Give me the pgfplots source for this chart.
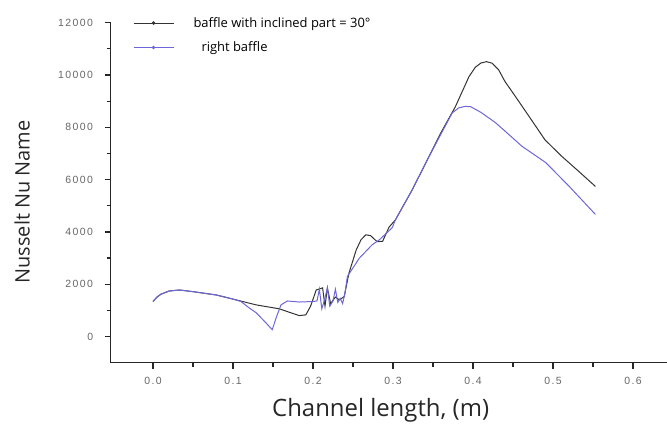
\documentclass[border=0pt]{standalone}
\usepackage{fontspec}
\setmainfont{Open Sans}
\newfontfamily\tickfont[LetterSpace=14]{Liberation Sans}
\usepackage{pgfplots}
\pgfplotsset{compat=1.18}
\definecolor{blk}{HTML}{333333}
\definecolor{blu}{HTML}{6C66D8}
\definecolor{tgray}{HTML}{666666}
\begin{document}
\begin{tikzpicture}
\path[use as bounding box] (-110.6bp,-69.3bp) rectangle (556.4bp,362.7bp);
\begin{axis}[
  at={(0,0)}, anchor=south west,
  scale only axis,
  width=556.8bp, height=340bp,
  xmin=-0.053, xmax=0.643,
  ymin=-1000, ymax=12000,
  axis lines=left,
  axis line style={-, draw=black!85, line width=1.1pt},
  tick align=outside,
  every tick/.append style={draw=black!85, line width=1.3pt},
  major tick length=6bp, minor tick length=4bp,
  xtick={0,0.1,0.2,0.3,0.4,0.5,0.6},
  minor xtick={0.05,0.15,0.25,0.35,0.45,0.55},
  ytick={0,2000,4000,6000,8000,10000,12000},
  minor ytick={1000,3000,5000,7000,9000,11000},
  /pgf/number format/assume math mode=true,
  xticklabel style={font=\tickfont\fontsize{10.5}{12}\selectfont, text=tgray, yshift=-5bp, /pgf/number format/.cd, fixed, fixed zerofill, precision=1},
  yticklabel style={font=\tickfont\fontsize{10.5}{12}\selectfont, text=tgray, xshift=-8bp, /pgf/number format/.cd, fixed, 1000 sep={}},
  scaled x ticks=false, scaled y ticks=false,
  xlabel={Channel length, (m)},
  ylabel={Nusselt Nu Name},
  every axis x label/.style={at={(axis description cs:0.485,-0.139)}, anchor=center, font=\fontsize{24}{28}\selectfont, text=black!85},
  every axis y label/.style={at={(axis description cs:-0.159,0.473)}, rotate=90, anchor=center, font=\fontsize{20}{24}\selectfont, text=black!85},
  legend style={at={(axis description cs:0.04,1.022)}, anchor=north west, draw=none, fill=none, inner sep=0pt, font=\fontsize{13}{15}\selectfont, row sep=9bp, legend cell align=left},
  legend image code/.code={\draw[#1, line width=0.9pt] (0bp,0bp) -- (40bp,0bp); \fill[#1] (20bp,0bp) circle (1.2pt); \path[draw=none,fill=none] (0bp,0bp) -- (58bp,0bp);},
]
\addplot[blk, line width=1pt] coordinates {
(0.000,1340) (0.005,1510) (0.010,1620) (0.020,1740) (0.033,1780) (0.049,1720)
(0.079,1590) (0.099,1440) (0.129,1210) (0.158,1060) (0.175,880) (0.183,800)
(0.191,830) (0.197,1160) (0.204,1780) (0.212,1860) (0.215,1160) (0.218,1860)
(0.222,1260) (0.228,1510) (0.233,1400) (0.239,1530) (0.245,2430) (0.254,3310)
(0.260,3700) (0.266,3890) (0.272,3860) (0.280,3630) (0.287,3640) (0.295,4180)
(0.303,4460) (0.324,5610) (0.345,6880) (0.360,7800) (0.378,8790) (0.395,9940)
(0.403,10300) (0.410,10460) (0.417,10510) (0.424,10450) (0.432,10200) (0.440,9750)
(0.453,9180) (0.470,8420) (0.490,7520) (0.511,6890) (0.532,6320) (0.553,5740)
};
\addlegendentry{baffle with inclined part = 30°}
\addplot[blu, line width=1pt] coordinates {
(0.000,1340) (0.005,1510) (0.010,1620) (0.020,1740) (0.033,1780) (0.049,1720)
(0.079,1590) (0.099,1440) (0.110,1340) (0.120,1100) (0.129,910) (0.141,530)
(0.149,260) (0.154,720) (0.160,1210) (0.168,1360) (0.183,1320) (0.200,1340)
(0.205,1360) (0.208,1810) (0.211,1060) (0.214,1360) (0.218,1860) (0.221,1160)
(0.225,1360) (0.228,1810) (0.231,1310) (0.234,1460) (0.237,1260) (0.240,1660)
(0.243,2300) (0.258,3000) (0.274,3510) (0.283,3700) (0.299,4160) (0.303,4460)
(0.324,5610) (0.345,6880) (0.374,8550) (0.382,8740) (0.390,8800) (0.397,8790)
(0.410,8570) (0.428,8180) (0.445,7720) (0.461,7280) (0.491,6650) (0.520,5750)
(0.553,4670)
};
\addlegendentry{\hspace{8bp}right baffle}
\end{axis}
\end{tikzpicture}
\end{document}
